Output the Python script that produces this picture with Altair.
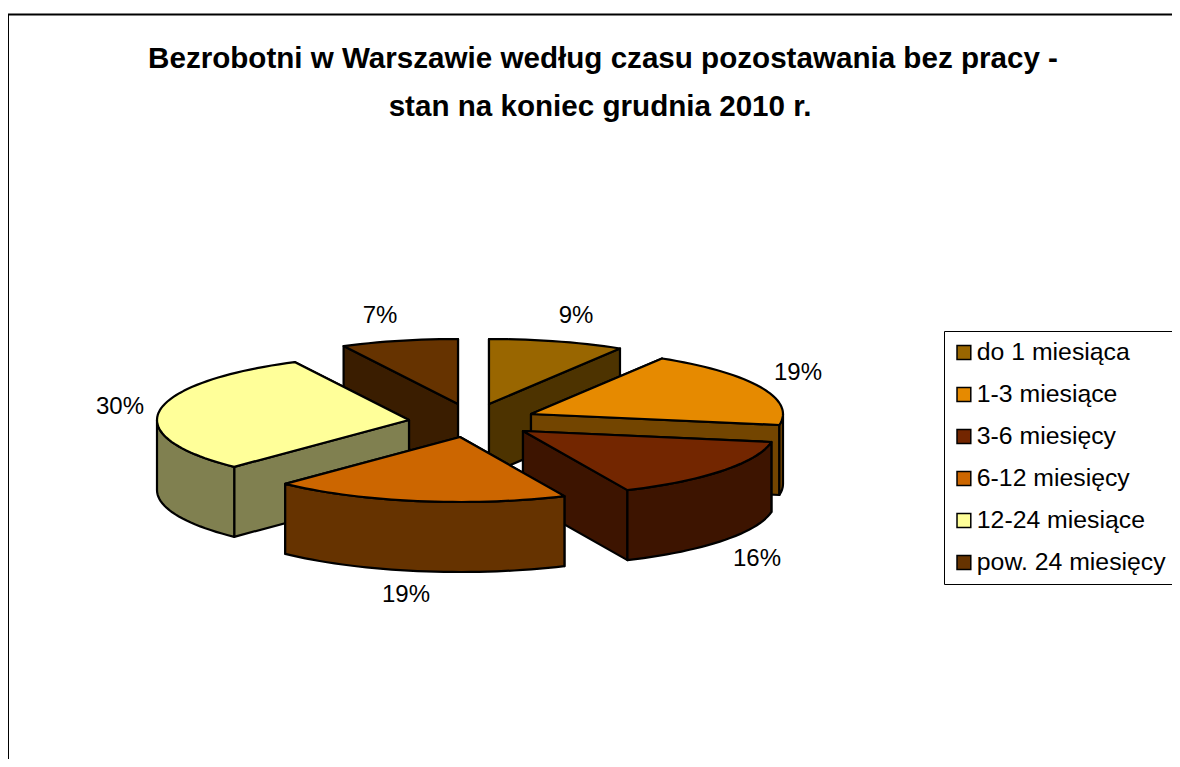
import math
import altair as alt

# ---- data ----
categories = ["do 1 miesiąca", "1-3 miesiące", "3-6 miesięcy", "6-12 miesięcy", "12-24 miesiące", "pow. 24 miesięcy"]
shares = [8.7, 19.0, 15.5, 19.0, 30.3, 7.5]
labels = ["9%", "19%", "16%", "19%", "30%", "7%"]
top_colors = ["#996600", "#e68a00", "#732600", "#cc6600", "#ffff99", "#663300"]
wall_colors = ["#4d3300", "#734500", "#3d1400", "#663300", "#808050", "#3a1d00"]
title_lines = ["Bezrobotni w Warszawie według czasu pozostawania bez pracy -", "stan na koniec grudnia 2010 r."]

# ---- layout (pixels inside the chart) ----
W, H = 1164, 751
RX, RY, DEPTH = 252, 65, 70
TIPS = [(481, 396), (523, 406), (515, 423), (452, 429), (401, 412), (450, 396)]
LABEL_OFFSETS = [(87, -88), (267, -41), (234, 128), (-54, 158), (-289, -13), (-78, -88)]
PAINT_ORDER = [5, 0, 1, 4, 2, 3]


def rim(i, t):
    a = math.radians(t)
    return (TIPS[i][0] + RX * math.sin(a), TIPS[i][1] - RY * math.cos(a))


def arc(i, t0, t1):
    n = max(2, int(abs(t1 - t0) / 2))
    return [rim(i, t0 + (t1 - t0) * k / n) for k in range(n + 1)]


def face(pts, key):
    ring = [list(p) for p in pts] + [list(pts[0])]
    return {"type": "Feature", "properties": {"key": key},
            "geometry": {"type": "Polygon", "coordinates": [ring]}}


bounds = [0.0]
for s in shares:
    bounds.append(bounds[-1] + s * 3.6)

faces = []
for i in PAINT_ORDER:
    t0, t1 = bounds[i], bounds[i + 1]
    wall = categories[i] + " bok"
    tip = TIPS[i]
    radial = sorted([t0, t1], key=lambda t: rim(i, t)[1])
    for t in radial:
        p = rim(i, t)
        faces.append(face([tip, p, (p[0], p[1] + DEPTH), (tip[0], tip[1] + DEPTH)], wall))
    lo, hi = max(t0, 90), min(t1, 270)
    if lo < hi:
        a = arc(i, lo, hi)
        faces.append(face(a + [(x, y + DEPTH) for x, y in reversed(a)], wall))
    faces.append(face([tip] + arc(i, t0, t1), categories[i]))

label_rows = [
    {"label": labels[i], "px": TIPS[i][0] + LABEL_OFFSETS[i][0], "py": TIPS[i][1] + LABEL_OFFSETS[i][1]}
    for i in range(6)
]
title_rows = [{"t": title_lines[0], "px": 595, "py": 51}, {"t": title_lines[1], "px": 592, "py": 99}]

domain = categories + [c + " bok" for c in categories]
colors = top_colors + wall_colors

pie = (
    alt.Chart(alt.Data(values=faces, format=alt.DataFormat(type="json")))
    .mark_geoshape(stroke="black", strokeWidth=2.2, strokeJoin="round")
    .encode(
        color=alt.Color(
            "properties.key:N",
            scale=alt.Scale(domain=domain, range=colors),
            legend=alt.Legend(
                values=categories, title=None, orient="none", legendX=936, legendY=323,
                fillColor="white", strokeColor="black", padding=7.5,
                symbolType="square", symbolSize=190, symbolStrokeColor="black", symbolStrokeWidth=1.5,
                symbolOpacity=1,
                labelFont="Liberation Sans", labelFontSize=24.8, labelColor="black", labelOffset=0.5,
                labelLimit=400, rowPadding=14, clipHeight=28,
            ),
        )
    )
    .project(type="identity", scale=1, translate=[0, 0])
)

pct = (
    alt.Chart(alt.Data(values=label_rows))
    .mark_text(font="Liberation Sans", fontSize=24, color="black")
    .encode(x=alt.X("px:Q", scale=None), y=alt.Y("py:Q", scale=None), text="label:N")
)
ttl = (
    alt.Chart(alt.Data(values=title_rows))
    .mark_text(font="Liberation Sans", fontSize=29.6, fontWeight="bold", color="black")
    .encode(x=alt.X("px:Q", scale=None), y=alt.Y("py:Q", scale=None), text="t:N")
)
left = alt.Chart(alt.Data(values=[{"a": 0}])).mark_rule(color="black", strokeWidth=2).encode(
    x=alt.value(0), y=alt.value(6), y2=alt.value(H))
top = alt.Chart(alt.Data(values=[{"a": 0}])).mark_rule(color="black", strokeWidth=2).encode(
    x=alt.value(0), x2=alt.value(W), y=alt.value(6.5))

chart = (
    alt.layer(left, top, pie, pct, ttl)
    .properties(width=W, height=H, padding=0, autosize=alt.AutoSizeParams(type="none"))
    .configure_view(stroke=None)
)
chart.save("out.html", embed_options={"renderer": "svg", "actions": False})
